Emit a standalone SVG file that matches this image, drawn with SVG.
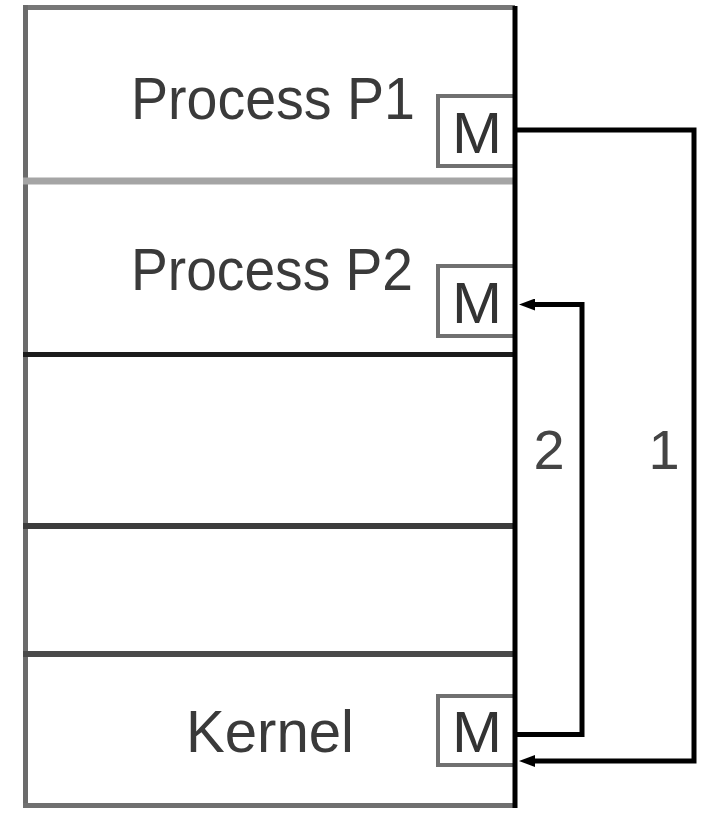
<svg xmlns="http://www.w3.org/2000/svg" width="705" height="814" viewBox="0 0 705 814">
  <style>
    .label { font-family: "Liberation Sans", Arial, sans-serif; font-size: 60px; fill: #3a3a3a; }
    .mark { font-family: "Liberation Sans", Arial, sans-serif; font-size: 58px; fill: #333; text-anchor: middle; }
    .num { font-family: "Liberation Sans", Arial, sans-serif; font-size: 56px; fill: #444; text-anchor: middle; }
    .mbox { fill: #fff; stroke: #707070; stroke-width: 4; }
    .wire { fill: none; stroke: #000; stroke-width: 5; stroke-linejoin: miter; }
  </style>
  <defs>
    <marker id="arrow" viewBox="0 0 16 12" refX="1" refY="6" markerWidth="16" markerHeight="12" markerUnits="userSpaceOnUse" orient="auto">
      <path d="M16,6 L0,0 L0,12 Z" fill="#000"/>
    </marker>
  </defs>
  <rect width="705" height="814" fill="#fff"/>

  <!-- memory column -->
  <g id="memory">
    <line x1="23" y1="7.5" x2="515" y2="7.5" stroke="#777" stroke-width="5"/>
    <line x1="25.5" y1="5" x2="25.5" y2="808" stroke="#6b6b6b" stroke-width="5"/>
    <line x1="23" y1="805.5" x2="515" y2="805.5" stroke="#707070" stroke-width="5"/>
    <line x1="23" y1="181" x2="515" y2="181" stroke="#a5a5a5" stroke-width="7"/>
    <line x1="23" y1="354.5" x2="515" y2="354.5" stroke="#1c1c1c" stroke-width="5"/>
    <line x1="23" y1="526" x2="515" y2="526" stroke="#3c3c3c" stroke-width="6"/>
    <line x1="23" y1="654" x2="515" y2="654" stroke="#4a4a4a" stroke-width="6"/>
  </g>

  <g id="p1">
    <text class="label" x="131" y="119" textLength="284" lengthAdjust="spacingAndGlyphs">Process P1</text>
    <rect class="mbox" x="438" y="96" width="77" height="70"/>
    <text class="mark" x="477" y="153" textLength="50" lengthAdjust="spacingAndGlyphs">M</text>
  </g>

  <g id="p2">
    <text class="label" x="131" y="290" textLength="282" lengthAdjust="spacingAndGlyphs">Process P2</text>
    <rect class="mbox" x="438" y="266" width="77" height="70"/>
    <text class="mark" x="477" y="323" textLength="50" lengthAdjust="spacingAndGlyphs">M</text>
  </g>

  <g id="kernel">
    <text class="label" x="186" y="752" textLength="168" lengthAdjust="spacingAndGlyphs">Kernel</text>
    <rect class="mbox" x="438" y="696" width="77" height="69"/>
    <text class="mark" x="477" y="752" textLength="50" lengthAdjust="spacingAndGlyphs">M</text>
  </g>

  <!-- right edge of the column -->
  <line x1="515" y1="6" x2="515" y2="808" stroke="#000" stroke-width="5"/>

  <g id="connectors">
    <polyline class="wire" points="515,130 694,130 694,761 534,761" marker-end="url(#arrow)"/>
    <polyline class="wire" points="515,734.5 582,734.5 582,304.5 534,304.5" marker-end="url(#arrow)"/>
    <text class="num" x="549" y="469">2</text>
    <text class="num" x="664" y="469">1</text>
  </g>
</svg>
